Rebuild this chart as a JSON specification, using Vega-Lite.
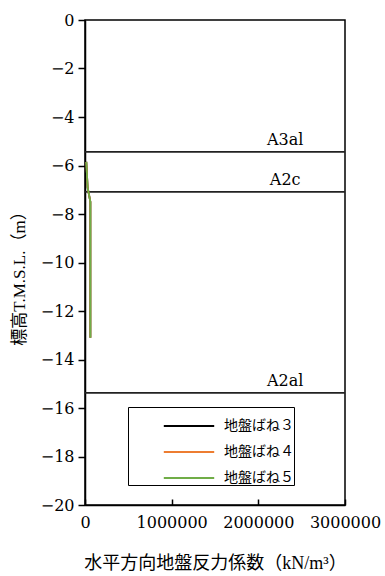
{
  "$schema": "https://vega.github.io/schema/vega-lite/v6.json",
  "autosize": {"type": "none"},
  "padding": {"left": 85, "top": 20, "right": 40, "bottom": 71},
  "width": 260,
  "height": 485,
  "background": "white",
  "config": {
    "font": "Liberation Serif, Noto Sans CJK JP",
    "view": {"stroke": "black", "strokeWidth": 1.5},
    "axis": {"domainColor": "black", "domainWidth": 1.5, "tickColor": "black", "tickWidth": 1.5, "grid": false, "labelColor": "black", "titleColor": "black", "labelFont": "DejaVu Serif", "labelFontSize": 16, "titleFontSize": 18, "titleFontWeight": "normal", "labelOverlap": false, "labelFlush": false}
  },
  "datasets": {
    "k": [
      {"series": "地盤ばね３", "i": 1, "depth": -5.85, "k": 15000},
      {"series": "地盤ばね３", "i": 2, "depth": -6.9, "k": 30000},
      {"series": "地盤ばね３", "i": 3, "depth": -7.5, "k": 62000},
      {"series": "地盤ばね３", "i": 4, "depth": -13.1, "k": 62000},
      {"series": "地盤ばね４", "i": 1, "depth": -5.85, "k": 15000},
      {"series": "地盤ばね４", "i": 2, "depth": -6.9, "k": 30000},
      {"series": "地盤ばね４", "i": 3, "depth": -7.5, "k": 62000},
      {"series": "地盤ばね４", "i": 4, "depth": -13.1, "k": 62000},
      {"series": "地盤ばね５", "i": 1, "depth": -5.85, "k": 15000},
      {"series": "地盤ばね５", "i": 2, "depth": -6.9, "k": 30000},
      {"series": "地盤ばね５", "i": 3, "depth": -7.5, "k": 62000},
      {"series": "地盤ばね５", "i": 4, "depth": -13.1, "k": 62000}
    ],
    "layers": [
      {"name": "A3al", "depth": -5.44},
      {"name": "A2c", "depth": -7.09},
      {"name": "A2al", "depth": -15.38}
    ]
  },
  "layer": [
    {
      "data": {"name": "layers"},
      "mark": {"type": "rule", "color": "#222222", "strokeWidth": 1.8},
      "encoding": {
        "y": {"field": "depth", "type": "quantitative", "scale": {"domain": [-20, 0]}}
      }
    },
    {
      "data": {"name": "layers"},
      "mark": {"type": "text", "fontSize": 16, "dy": -12, "color": "black", "font": "DejaVu Serif"},
      "encoding": {
        "x": {"datum": 2310000, "type": "quantitative"},
        "y": {"field": "depth", "type": "quantitative"},
        "text": {"field": "name"}
      }
    },
    {
      "data": {"name": "k"},
      "mark": {"type": "line", "strokeWidth": 1.8},
      "encoding": {
        "x": {
          "field": "k", "type": "quantitative",
          "scale": {"domain": [0, 3000000], "nice": false},
          "axis": {"values": [0, 1000000, 2000000, 3000000], "format": "d", "tickSize": -6, "labelPadding": 15, "title": "水平方向地盤反力係数（kN/m³）", "titlePadding": 24}
        },
        "y": {
          "field": "depth", "type": "quantitative",
          "scale": {"domain": [-20, 0], "nice": false},
          "axis": {"values": [0, -2, -4, -6, -8, -10, -12, -14, -16, -18, -20], "tickSize": 7, "labelPadding": 4, "title": "標高T.M.S.L.（m）", "titleFontSize": 17, "titlePadding": 12, "titleY": 254}
        },
        "color": {
          "field": "series", "type": "nominal",
          "scale": {"domain": ["地盤ばね３", "地盤ばね４", "地盤ばね５"], "range": ["#000000", "#ED7D31", "#70AD47"]},
          "legend": {
            "title": null, "orient": "none", "legendX": 43, "legendY": 387,
            "strokeColor": "black", "padding": 0, "symbolType": "M-1.4,0H1.4", "symbolSize": 1296, "symbolStrokeWidth": 2, "symbolOffset": 42,
            "labelFontSize": 14, "labelOffset": 16, "rowPadding": -9,
            "labelExpr": "datum.label + '　　　'"
          }
        },
        "order": {"field": "i", "type": "quantitative"}
      }
    }
  ]
}
